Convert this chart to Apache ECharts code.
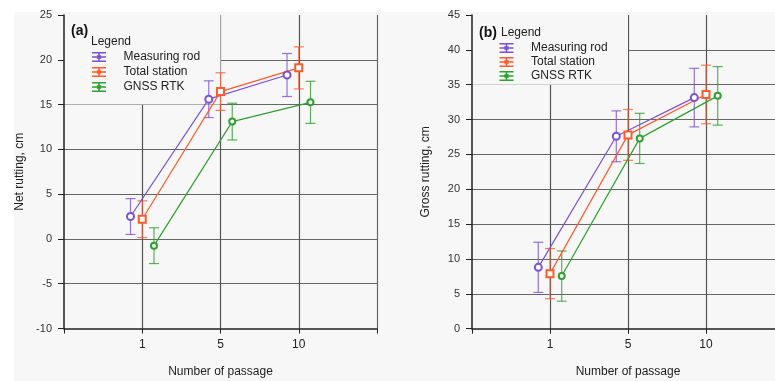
<!DOCTYPE html>
<html>
<head>
<meta charset="utf-8">
<script src="https://cdn.jsdelivr.net/npm/echarts@6/dist/echarts.min.js"></script>
<style>
  html, body { margin: 0; padding: 0; background: #fff; }
  #bg { position: absolute; left: 14px; top: 12px; width: 761px; height: 369px; background: #f7f7f7; }
  #main { position: absolute; left: 0; top: 0; width: 775px; height: 381px; }
</style>
</head>
<body>
<div id="bg"></div>
<div id="main"></div>
<script>
// x 轴刻度标签
const passLabels = ['1', '5', '10']
// 图例名
const seriesNames = ['Measuring rod', 'Total station', 'GNSS RTK']
// (a) Net rutting, cm
const netRod = [2.5, 15.6, 18.3]
const netRodErr = [2.0, 2.05, 2.4]
const netTotal = [2.2, 16.45, 19.1]
const netTotalErr = [2.05, 2.1, 2.35]
const netGnss = [-0.75, 13.1, 15.25]
const netGnssErr = [2.0, 2.05, 2.35]
// (b) Gross rutting, cm
const grossRod = [8.8, 27.6, 33.15]
const grossRodErr = [3.6, 3.65, 4.2]
const grossTotal = [7.9, 27.8, 33.6]
const grossTotalErr = [3.6, 3.65, 4.2]
const grossGnss = [7.55, 27.3, 33.4]
const grossGnssErr = [3.6, 3.6, 4.2]

// 样式
const colors = ['#7b52d3', '#ff5a2e', '#2fa02f']
const symbols = ['emptyCircle', 'emptyRect', 'emptyCircle']
const symbolSizes = [7, 7, 6]
const offsets = [-0.15, 0, 0.15]
const bgColor = '#f7f7f7'
const font = "'Liberation Sans Narrow', 'Arial Narrow', 'Liberation Sans', Arial, sans-serif"
const legendIcon = 'path://M0,0H14V1.5H0Z M0,8.5H14V10H0Z M6.2,0H7.8V10H6.2Z M0,4.3H14V5.7H0Z M4.8,3.2H9.2V6.8H4.8Z'

const chart = echarts.init(document.getElementById('main'))

// 误差棒
const renderErrorBar = (params, api) => {
  const x = api.value(0)
  const lo = api.coord([x, api.value(1)])
  const hi = api.coord([x, api.value(2)])
  const half = 5
  const style = { stroke: api.visual('color'), fill: null, lineWidth: 1.2, opacity: 0.8 }
  return {
    type: 'group',
    children: [
      { type: 'line', shape: { x1: lo[0], y1: lo[1], x2: hi[0], y2: hi[1] }, style },
      { type: 'line', shape: { x1: lo[0] - half, y1: lo[1], x2: lo[0] + half, y2: lo[1] }, style },
      { type: 'line', shape: { x1: hi[0] - half, y1: hi[1], x2: hi[0] + half, y2: hi[1] }, style }
    ]
  }
}

const xAxisFor = (gridIndex) => ({
  type: 'value',
  gridIndex,
  min: 0,
  max: 4,
  interval: 1,
  name: 'Number of passage',
  nameLocation: 'middle',
  nameGap: 37,
  nameTextStyle: { fontFamily: font, fontSize: 12, color: '#222' },
  axisLine: { onZero: false, lineStyle: { color: '#222', width: 1.5 } },
  axisTick: { length: 5, lineStyle: { color: '#222' } },
  axisLabel: {
    margin: 10,
    fontFamily: font,
    fontSize: 12,
    color: '#222',
    formatter: (v) => passLabels[v - 1] || ''
  },
  splitLine: {
    show: true,
    showMinLine: false,
    lineStyle: { color: ['#555', '#555', '#555', '#666', '#a9a8b2'], width: 1.2 }
  }
})

const yAxesFor = (gridIndex, min, max, name, nameGap) => [
  {
    type: 'value',
    gridIndex,
    min,
    max,
    interval: 5,
    z: 3,
    name,
    nameLocation: 'middle',
    nameGap,
    nameTextStyle: { fontFamily: font, fontSize: 12, color: '#222' },
    axisLine: { show: true, onZero: false, lineStyle: { color: '#222', width: 1.5 } },
    axisTick: { show: true, length: 6, lineStyle: { color: '#222' } },
    axisLabel: { margin: 12, fontFamily: font, fontSize: 11, color: '#333' },
    splitLine: { show: false }
  },
  {
    type: 'value',
    gridIndex,
    min,
    max,
    interval: 5,
    z: 0,
    axisLine: { show: false },
    axisTick: { show: false },
    axisLabel: { show: false },
    splitLine: { show: true, showMinLine: false, showMaxLine: false, lineStyle: { color: '#666', width: 1.2 } }
  }
]

const panelSeries = (gridIndex, means, errs, boxY) => {
  const list = [
    // 图例底色遮住网格线
    {
      type: 'line',
      xAxisIndex: gridIndex,
      yAxisIndex: gridIndex * 2,
      z: 1,
      silent: true,
      data: [],
      markArea: {
        silent: true,
        itemStyle: { color: bgColor, opacity: 1 },
        data: [[{ coord: [0, boxY[0]] }, { coord: [2, boxY[1]] }]]
      }
    }
  ]
  means.forEach((m, k) => {
    list.push({
      type: 'line',
      name: seriesNames[k],
      xAxisIndex: gridIndex,
      yAxisIndex: gridIndex * 2,
      z: 4,
      symbol: symbols[k],
      symbolSize: symbolSizes[k],
      itemStyle: { color: colors[k], borderWidth: 1.3 },
      lineStyle: { color: colors[k], width: 1.2 },
      data: m.map((v, i) => [i + 1 + offsets[k], v])
    })
    list.push({
      type: 'custom',
      name: seriesNames[k],
      xAxisIndex: gridIndex,
      yAxisIndex: gridIndex * 2,
      z: 3,
      itemStyle: { color: colors[k] },
      renderItem: renderErrorBar,
      encode: { x: 0, y: [1, 2] },
      data: m.map((v, i) => [i + 1 + offsets[k], v - errs[k][i], v + errs[k][i]])
    })
  })
  return list
}

const legendFor = (left, top, itemGap) => ({
  orient: 'vertical',
  left,
  top,
  itemWidth: 39,
  itemHeight: 10,
  itemGap,
  icon: legendIcon,
  selectedMode: false,
  textStyle: { fontFamily: font, fontSize: 12, color: '#222', lineHeight: 14 },
  data: seriesNames.map((n, i) => ({ name: n, itemStyle: { color: colors[i] } }))
})

const option = {
  animation: false,
  textStyle: { fontFamily: font },
  title: [
    { text: '(a)', left: 66, top: 19, textStyle: { fontFamily: 'Liberation Sans, Arial, sans-serif', fontSize: 14, fontWeight: 'bold', color: '#111' } },
    { text: 'Legend', left: 86, top: 31, textStyle: { fontFamily: font, fontSize: 12, fontWeight: 'normal', color: '#222' } },
    { text: '(b)', left: 474, top: 21, textStyle: { fontFamily: 'Liberation Sans, Arial, sans-serif', fontSize: 14, fontWeight: 'bold', color: '#111' } },
    { text: 'Legend', left: 496, top: 22, textStyle: { fontFamily: font, fontSize: 12, fontWeight: 'normal', color: '#222' } }
  ],
  legend: [legendFor(87, 45, 1), legendFor(494.5, 36, 0)],
  grid: [
    { left: 64, top: 15, width: 313, height: 313.5, outerBoundsMode: 'none' },
    { left: 472, top: 15, width: 312, height: 313.7, outerBoundsMode: 'none' }
  ],
  xAxis: [xAxisFor(0), xAxisFor(1)],
  yAxis: [
    ...yAxesFor(0, -10, 25, 'Net rutting, cm', 38),
    ...yAxesFor(1, 0, 45, 'Gross rutting, cm', 40)
  ],
  series: [
    ...panelSeries(0, [netRod, netTotal, netGnss], [netRodErr, netTotalErr, netGnssErr], [15, 25]),
    ...panelSeries(1, [grossRod, grossTotal, grossGnss], [grossRodErr, grossTotalErr, grossGnssErr], [35, 45])
  ]
}
chart.setOption(option)
</script>
</body>
</html>
